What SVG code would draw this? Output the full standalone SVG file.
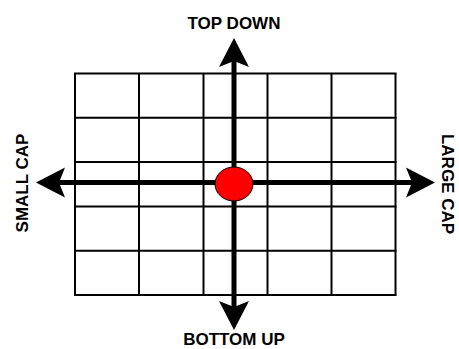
<svg xmlns="http://www.w3.org/2000/svg" width="459" height="349" viewBox="0 0 459 349">
  <style>
    .grid line { stroke: #000; stroke-width: 2; }
    .axis { stroke: #000; stroke-width: 5; fill: none; }
    .lbl { font-family: "Liberation Sans", Arial, sans-serif; font-weight: bold; font-size: 17px; fill: #000; text-anchor: middle; }
  </style>
  <defs>
    <marker id="head" markerUnits="userSpaceOnUse" markerWidth="30" markerHeight="30" viewBox="0 0 30 30" refX="6" refY="15" orient="auto-start-reverse" overflow="visible">
      <path d="M0,0 L29,15 L0,30 L6,15 Z" fill="#000"/>
    </marker>
  </defs>
  <rect width="459" height="349" fill="#fff"/>
  <g id="grid" class="grid">
    <line x1="75" y1="73.5" x2="75" y2="295"/>
    <line x1="139" y1="73.5" x2="139" y2="295"/>
    <line x1="203.5" y1="73.5" x2="203.5" y2="295"/>
    <line x1="267.5" y1="73.5" x2="267.5" y2="295"/>
    <line x1="331.5" y1="73.5" x2="331.5" y2="295"/>
    <line x1="395.5" y1="73.5" x2="395.5" y2="295"/>
    <line x1="74" y1="73.5" x2="396.5" y2="73.5"/>
    <line x1="74" y1="117.8" x2="396.5" y2="117.8"/>
    <line x1="74" y1="162.1" x2="396.5" y2="162.1"/>
    <line x1="74" y1="206.4" x2="396.5" y2="206.4"/>
    <line x1="74" y1="250.7" x2="396.5" y2="250.7"/>
    <line x1="74" y1="295" x2="396.5" y2="295"/>
  </g>
  <g id="connectors">
    <line class="axis" x1="234" y1="61" x2="234" y2="307" marker-start="url(#head)" marker-end="url(#head)"/>
    <line class="axis" x1="59" y1="182.5" x2="412" y2="182.5" marker-start="url(#head)" marker-end="url(#head)"/>
  </g>
  <g id="center">
    <ellipse cx="234" cy="184" rx="19" ry="17" fill="#ff0000" stroke="#000" stroke-width="1"/>
  </g>
  <g id="top-down"><text class="lbl" x="234" y="29">TOP DOWN</text></g>
  <g id="bottom-up"><text class="lbl" x="234" y="345">BOTTOM UP</text></g>
  <g id="small-cap"><text class="lbl" transform="translate(28,183) rotate(-90)">SMALL CAP</text></g>
  <g id="large-cap"><text class="lbl" transform="translate(442,184) rotate(90)">LARGE CAP</text></g>
</svg>
